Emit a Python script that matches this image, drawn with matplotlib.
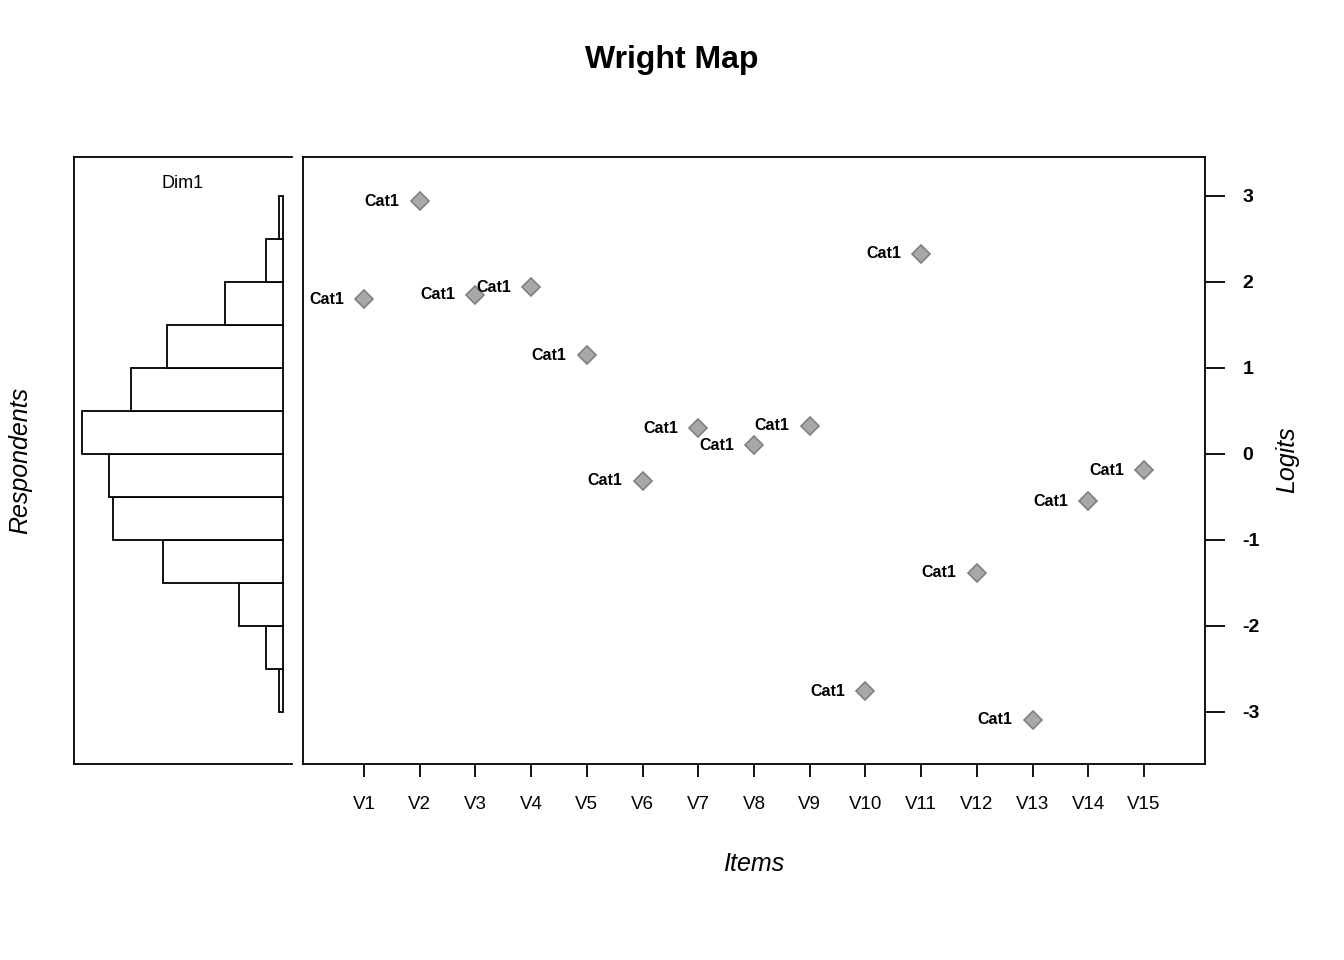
import numpy as np
import matplotlib
matplotlib.use("Agg")
import matplotlib.pyplot as plt

plt.rcParams['font.family'] = ['Liberation Sans', 'DejaVu Sans']

# item difficulties (logits)
items = ['V1', 'V2', 'V3', 'V4', 'V5', 'V6', 'V7', 'V8', 'V9', 'V10',
         'V11', 'V12', 'V13', 'V14', 'V15']
difficulty = [1.80, 2.94, 1.85, 1.94, 1.15, -0.31, 0.30, 0.10, 0.33, -2.76,
              2.33, -1.38, -3.09, -0.55, -0.19]
cat_labels = ['Cat1'] * 15

# respondent histogram (bin lower edges, counts)
bin_edges = [-3.0, -2.5, -2.0, -1.5, -1.0, -0.5, 0.0, 0.5, 1.0, 1.5, 2.0, 2.5]
counts = [1, 4, 10, 27, 38, 39, 45, 34, 26, 13, 4, 1]
bin_width = 0.5

W, H = 1344, 960
fig = plt.figure(figsize=(W / 100, H / 100), dpi=100)

y_lim = (-3.605, 3.453)
bottom = 1 - 764 / H
height = (764 - 157) / H

# left panel: respondents
axh = fig.add_axes([74 / W, bottom, (291.5 - 74) / W, height])
axh.barh(bin_edges, counts, height=bin_width, align='edge',
         color='white', edgecolor='black', linewidth=1.3)
axh.set_xlim(46.8, -1.8)
axh.set_ylim(*y_lim)
axh.set_xticks([])
axh.set_yticks([])
axh.spines['right'].set_visible(False)
for s in axh.spines.values():
    s.set_linewidth(1.3)
axh.text(0.497, 0.957, 'Dim1', transform=axh.transAxes,
         ha='center', va='center', fontsize=13)

# right panel: items
ax = fig.add_axes([303 / W, bottom, (1205 - 303) / W, height])
x = np.arange(1, len(items) + 1)
ax.plot(x, difficulty, linestyle='none', marker='D', markersize=9,
        markerfacecolor='#a8a8a8', markeredgecolor='#808080',
        markeredgewidth=1.2)
for xi, yi, lab in zip(x, difficulty, cat_labels):
    ax.annotate(lab, (xi, yi), xytext=(-14.5, 0), textcoords='offset points',
                ha='right', va='center', fontsize=11.5, fontweight='bold')
ax.set_xlim(-0.094, 16.094)
ax.set_ylim(*y_lim)
ax.set_xticks(x)
ax.set_xticklabels(items, fontsize=13.5)
ax.tick_params(axis='x', length=9.5, width=1.3, pad=13.5)
ax.yaxis.tick_right()
ax.set_yticks([-3, -2, -1, 0, 1, 2, 3])
ax.set_yticklabels(['-3', '-2', '-1', '0', '1', '2', '3'],
                   fontsize=14, fontweight='bold')
ax.tick_params(axis='y', length=14.4, width=1.3, pad=12.5)
for s in ax.spines.values():
    s.set_linewidth(1.3)

fig.text(0.5, 1 - 60 / H, 'Wright Map', ha='center', va='center',
         fontsize=23, fontweight='bold')
fig.text(20 / W, 1 - 460 / H, 'Respondents', rotation=90, ha='center',
         va='center', fontsize=18, style='italic')
fig.text(1287 / W, 1 - 460 / H, 'Logits', rotation=90, ha='center',
         va='center', fontsize=18, style='italic')
fig.text(754 / W, 1 - 864 / H, 'Items', ha='center', va='center',
         fontsize=18, style='italic')

fig.savefig('out.png', dpi=100)
